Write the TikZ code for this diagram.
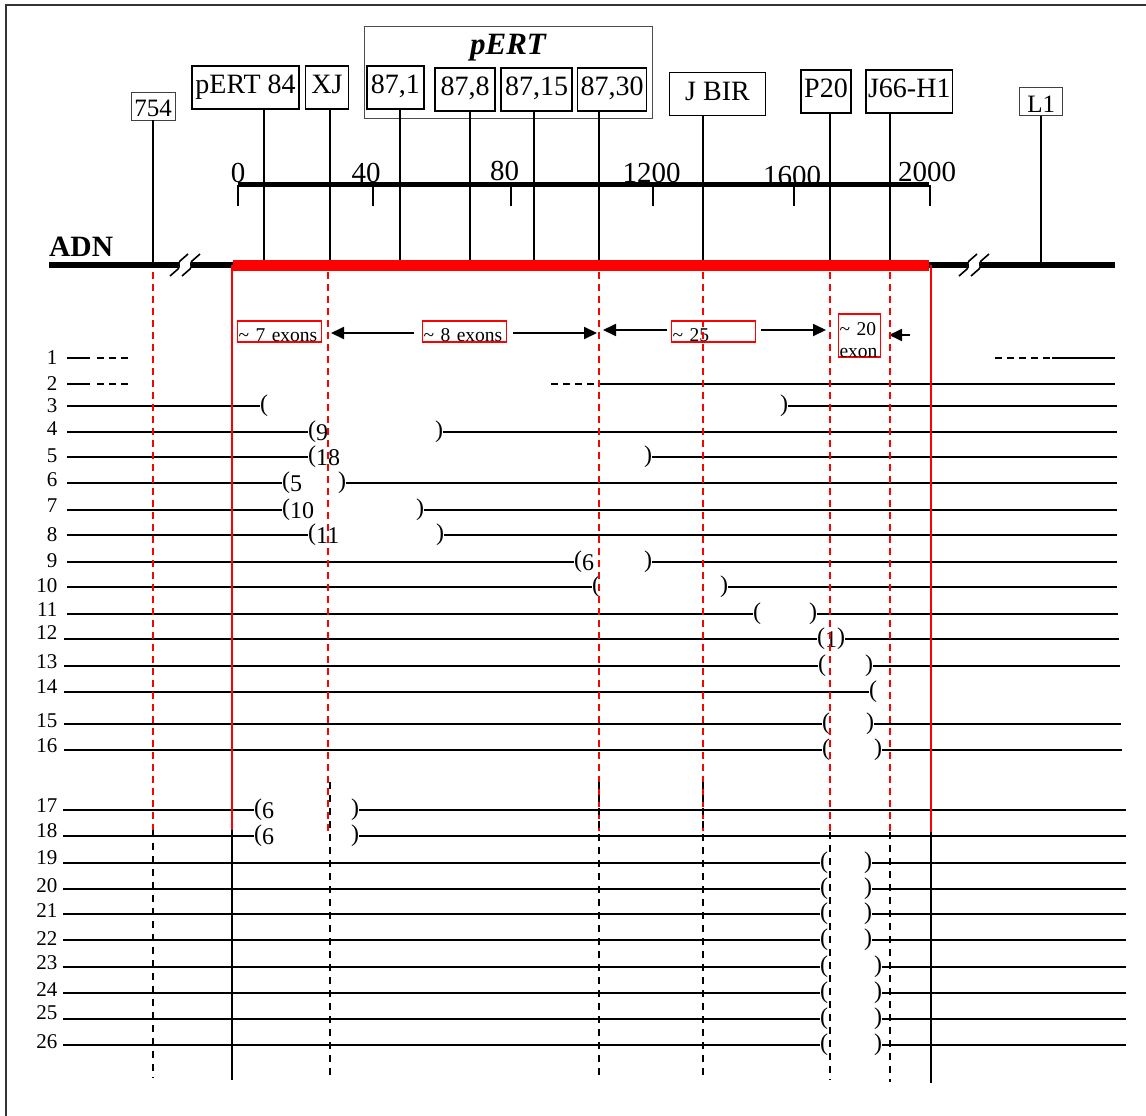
\documentclass[tikz,border=0pt]{standalone}
\usepackage{fontspec}
\setmainfont{Liberation Serif}
\usetikzlibrary{positioning,arrows.meta}
\newcommand{\pxfont}[1]{\fontsize{#1}{#1}\selectfont}
\tikzset{
  mkbox/.style={draw, line width=1.4pt, inner xsep=2pt, inner ysep=0pt, minimum height=43pt, text height=19pt, text depth=7pt, font=\pxfont{28}},
  tagbox/.style={draw=black!75, line width=0.9pt, inner xsep=2pt, inner ysep=0pt, minimum height=28pt, text height=21pt, text depth=0pt, font=\pxfont{25}},
  groupbox/.style={draw=black!70, line width=0.8pt, minimum width=288.5pt, minimum height=92pt, inner sep=0pt},
  probe/.style={line width=1.8pt},
  scalenum/.style={anchor=base, inner sep=0pt, font=\pxfont{29}},
  exonbox/.style={draw=red, line width=1.3pt, inner xsep=1pt, inner ysep=0.5pt, text height=20pt, text depth=0pt, align=left, font=\pxfont{19.5}},
  exarrow/.style={-{Triangle[length=13pt,width=12pt]}, line width=1.8pt},
  rowline/.style={line width=1.8pt},
  rowdash/.style={line width=1.8pt, dash pattern=on 7pt off 5pt},
  rownum/.style={anchor=east, inner sep=0pt, font=\pxfont{21}},
  paren/.style={inner sep=0pt, font=\pxfont{24}},
  reddash/.style={red, line width=1.8pt, dash pattern=on 7pt off 5pt},
  blkdash/.style={line width=1.8pt, dash pattern=on 7pt off 6pt},
  wall/.style={line width=2pt},
  adnbreak/.pic={
    \fill[white] (-5,4) -- (7,4) -- (9,-4) -- (-3,-4) -- cycle;
    \draw[line width=1.6pt] (-13,11) -- (-5,4) .. controls (-2,1) and (-6,-1) .. (-3,-4) -- (5,-11);
    \draw[line width=1.6pt] (-1,11) -- (7,4) .. controls (10,1) and (6,-1) .. (9,-4) -- (17,-11);
  }
}

\begin{document}
\begin{tikzpicture}[x=1pt, y=-1pt]
\useasboundingbox (0,0) rectangle (1146,1116);
\draw[black!80, line width=1.5pt] (6,1130) |- (1160,5);

% probes above the map
\node[groupbox] (pertgrp) at (508.2,72) {};
\node[font=\bfseries\itshape\pxfont{31}, anchor=base, inner sep=0pt] (perttitle) at (508,55) {pERT};
\node[tagbox, minimum width=44pt] (m754) at (153,106) {754};
\node[mkbox, minimum width=107pt] (m84) at (245.5,87.5) {pERT 84};
\node[mkbox, minimum width=43pt] (mXJ) at (327,87.5) {XJ};
\node[mkbox, minimum width=57pt] (m871) at (395.3,87.5) {87,1};
\node[mkbox, minimum width=60pt] (m878) at (465,89.5) {87,8};
\node[mkbox, minimum width=71pt] (m8715) at (536.5,89.5) {87,15};
\node[mkbox, minimum width=69pt] (m8730) at (612,89.5) {87,30};
\node[mkbox, minimum width=96pt] (mJBIR) at (717.5,94) {J BIR};
\node[mkbox, minimum width=50pt] (mP20) at (826,91.5) {P20};
\node[mkbox, minimum width=85pt] (mJ66) at (909.3,91.5) {J66-H1};
\node[tagbox, minimum width=43pt] (mL1) at (1041.3,101.5) {L1};
\foreach \m/\x in {m754/153, m84/264, mXJ/330, m871/400, m878/470, m8715/534,
                   m8730/599, mJBIR/703, mP20/830, mJ66/890, mL1/1041}{
  \coordinate (p\m) at (\x,264);
  \draw[probe] (\m.south -| p\m) -- (p\m);
}

% scale
\foreach \x/\t/\b in {238/0/182, 366/40/182, 504.6/80/180, 651.6/1200/182, 792/1600/185, 927/2000/181}
  \node[scalenum] (n\t) at (\x,\b) {\t};
\coordinate (s0) at (237.8,184.5);
\coordinate (s2000) at (929.4,184.5);
\draw[line width=5pt] (s0) -- (s2000);
\foreach \x in {238,373,511,653,794,930}
  \draw[line width=1.8pt] (\x,184.5) -- (\x,206);

% ADN
\node[font=\bfseries\pxfont{29.5}, anchor=base west, inner sep=0pt] (adn) at (49,256) {ADN};
\draw[line width=6pt] (49,265) -- (233,265);
\draw[line width=6pt] (929,265) -- (1115,265);
\draw[red, line width=11pt] (233,265) -- (929,265);
\pic at (183,265) {adnbreak};
\pic at (972,265) {adnbreak};

% exon counts
\node[exonbox, text width=82pt] (ex7) at (279.5,331.5) {\textasciitilde{} 7 exons};
\node[exonbox, text width=82pt] (ex8) at (464.5,331.5) {\textasciitilde{} 8 exons};
\node[exonbox, text width=82pt] (ex25) at (713.5,331.5) {\textasciitilde{} 25};
\node[exonbox, text width=40pt, text height=20.5pt, text depth=21.5pt,
      font=\fontsize{19.5}{22}\selectfont] (ex20) at (859.5,335.5) {\textasciitilde{} 20\\exon};

% cut positions
\coordinate (d754) at (153,272);
\coordinate (dXJ) at (328,272);
\coordinate (d8730) at (599,272);
\coordinate (dJBIR) at (703,272);
\coordinate (dP20) at (830,272);
\coordinate (dJ66) at (890,272);

\draw[exarrow] ([xshift=-7.5pt,yshift=-1.5pt]ex8.west) -- ([xshift=3pt,yshift=-1.5pt]ex8.west -| dXJ);
\draw[exarrow] ([xshift=6pt,yshift=-1.5pt]ex8.east) -- ([xshift=-2pt,yshift=-1.5pt]ex8.east -| d8730);
\draw[exarrow] ([xshift=-4pt,yshift=1.5pt]ex25.west) -- ([xshift=4pt,yshift=1.5pt]ex25.west -| d8730);
\draw[exarrow] ([xshift=5pt,yshift=1.5pt]ex25.east) -- ([xshift=-4pt,yshift=1.5pt]ex25.east -| dP20);
\coordinate (t20) at (910,335);
\draw[exarrow] (t20) -- ([xshift=-1pt]t20 -| dJ66);

% clones
\foreach \n/\ly in {1/357.5,2/383.7,3/406,4/429,5/456,6/480,7/506,8/534.5,9/560.5,10/586,
                    11/610,12/633,13/661.5,14/687,15/720.5,16/746,17/806,18/830.5,19/858,
                    20/886,21/911,22/939,23/962.5,24/990,25/1013,26/1042}
  \node[rownum] (r\n) at (57.5,\ly) {\n};

\coordinate (s1) at (67,358);
\coordinate (e1) at (1115,358);
\draw[rowline] (s1) -- (90,358);
\draw[rowdash] (97,358) -- (128,358);
\draw[rowdash] (995,358) -- (1052,358);
\draw[rowline] (1052,358) -- (e1);

\coordinate (s2) at (67,384);
\coordinate (e2) at (1115,384);
\draw[rowline] (s2) -- (90,384);
\draw[rowdash] (97,384) -- (128,384);
\draw[rowdash] (551,384) -- (599,384);
\draw[rowline] (599,384) -- (e2);

\foreach \n/\y/\xs/\xo/\lab/\xc/\xe in {
  3/406/67/260/{}/780/1117,
  4/432/67/308/9/435/1117,
  5/457/67/308/18/644/1117,
  6/483/67/282/5/338/1117,
  7/510/67/282/10/416/1117,
  8/535/67/308/11/436/1117,
  9/562/67/574/6/644/1117,
  10/587/67/592/{}/720/1117,
  11/614/67/753/{}/809/1118,
  12/639/64/817/1/837/1119,
  13/666/64/818/{}/865/1120,
  15/724/64/822/{}/866/1121,
  16/750/64/822/{}/874/1122,
  17/810/63/254/6/351/1126,
  18/836/63/254/6/351/1126,
  19/863/63/820/{}/864/1126,
  20/889/63/820/{}/864/1126,
  21/914/63/820/{}/864/1126,
  22/940/63/820/{}/864/1126,
  23/967/63/820/{}/874/1126,
  24/993/63/820/{}/874/1126,
  25/1019/63/820/{}/874/1126,
  26/1045/63/820/{}/874/1126}{
  \coordinate (s\n) at (\xs,\y);
  \coordinate (e\n) at (\xe,\y);
  \node[paren, anchor=west] (o\n) at (\xo,\y) {(\smash{\raisebox{-3pt}{\lab}}};
  \node[paren, anchor=west] (c\n) at (\xc,\y) {)};
  \draw[rowline] (s\n) -- (o\n.west);
  \draw[rowline] (c\n.east) -- (e\n);
}
\coordinate (s14) at (64,692);
\node[paren, anchor=west] (o14) at (869,692) {(};
\draw[rowline] (s14) -- (o14.west);

% verticals
\foreach \c in {d754,dXJ,d8730,dJBIR,dP20,dJ66}
  \draw[reddash] (\c) -- (\c |- 0,832);
\draw[blkdash] (153,830) -- (153,1078);
\draw[blkdash] (330,782) -- (330,1078);
\draw[blkdash] (599,782) -- (599,1078);
\draw[blkdash] (703,782) -- (703,1078);
\draw[blkdash] (830,832) -- (830,1080);
\draw[blkdash] (890,832) -- (890,1082);
\draw[wall, red] (232,265) -- (232,830);
\draw[wall] (232,830) -- (232,1080);
\draw[wall, red] (931,265) -- (931,832);
\draw[wall] (931,832) -- (931,1083);
\end{tikzpicture}
\end{document}
